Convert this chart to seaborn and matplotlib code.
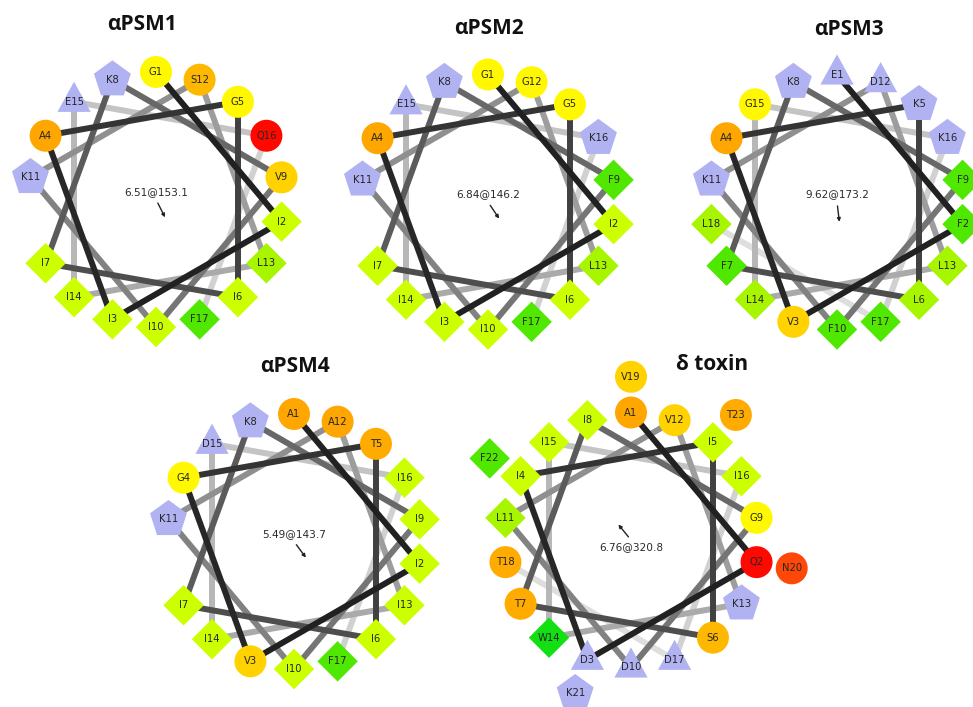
import numpy as np
import pandas as pd
import matplotlib
matplotlib.use("Agg")
import matplotlib.pyplot as plt
from matplotlib.path import Path
import seaborn as sns

sns.set_theme(style="white")
plt.rcParams["font.family"] = ["DejaVu Sans"]

# ---- peptide data ----
titles = ["αPSM1", "αPSM2", "αPSM3", "αPSM4", "δ toxin"]
seq_psm1 = ["G", "I", "I", "A", "G", "I", "I", "K", "V", "I", "K", "S", "L", "I", "E", "Q", "F"]
seq_psm2 = ["G", "I", "I", "A", "G", "I", "I", "K", "F", "I", "K", "G", "L", "I", "E", "K", "F"]
seq_psm3 = ["E", "F", "V", "A", "K", "L", "F", "K", "F", "F", "K", "D", "L", "L", "G", "K", "F", "L"]
seq_psm4 = ["A", "I", "V", "G", "T", "I", "I", "K", "I", "I", "K", "A", "I", "I", "D", "I", "F"]
seq_delta = ["A", "Q", "D", "I", "I", "S", "T", "I", "G", "D", "L", "V", "K", "W", "I", "I",
             "D", "T", "V", "N", "K", "F", "T"]
sequences = [seq_psm1, seq_psm2, seq_psm3, seq_psm4, seq_delta]
moment = [6.51, 6.84, 9.62, 5.49, 6.76]
moment_angle = [153.1, 146.2, 173.2, 143.7, 320.8]

# ---- residue appearance ----
residue_color = {
    "G": "#fff800", "A": "#ffa600", "S": "#ffb800", "T": "#ffab00", "V": "#ffd200",
    "Q": "#ff0800", "N": "#ff4808",
    "I": "#ccff00", "L": "#a8f500", "F": "#50e800", "W": "#12e012",
    "K": "#b0b2f2", "D": "#b0b2f2", "E": "#b0b2f2",
}
residue_kind = {
    "G": "polar", "A": "polar", "S": "polar", "T": "polar", "V": "polar",
    "Q": "polar", "N": "polar",
    "I": "hydrophobic", "L": "hydrophobic", "F": "hydrophobic", "W": "hydrophobic",
    "K": "basic", "D": "acidic", "E": "acidic",
}
triangle = Path([(0, 20), (-16.5, -10), (16.5, -10), (0, 20)],
                [Path.MOVETO, Path.LINETO, Path.LINETO, Path.CLOSEPOLY])
kind_marker = {"polar": "o", "hydrophobic": "D", "basic": "p", "acidic": triangle}
kind_size = {"polar": 530, "hydrophobic": 425, "basic": 780, "acidic": 840}

# ---- layout in pixels ----
W, H = 973, 707
centers = [(156, 199.5), (488, 202), (837, 202), (294, 541.5), (631, 540)]
title_pos = [(142, 29.5), (489, 34.3), (849, 35), (295, 372.3), (712, 370)]
RING = 127.5      # radius of the wheel, px
HALF = 190        # half size of each wheel's axes, px
OUTER = 1.28      # radius of the second turn of the wheel (relative)
seg_gray = np.clip(np.linspace(0.05, 0.87, 17), 0.13, None)

fig = plt.figure(figsize=(W / 100, H / 100), dpi=100)
fig.patch.set_facecolor("white")

for k, seq in enumerate(sequences):
    cx, cy = centers[k]
    ax = fig.add_axes([(cx - HALF) / W, (H - cy - HALF) / H, 2 * HALF / W, 2 * HALF / H])
    ax.patch.set_alpha(0)
    n = len(seq)
    idx = np.arange(n)
    theta = np.deg2rad(90 - 100 * idx)
    rad = np.where(idx < 18, 1.0, OUTER)
    df = pd.DataFrame({
        "x": rad * np.cos(theta),
        "y": rad * np.sin(theta),
        "res": seq,
        "label": [f"{a}{i + 1}" for i, a in enumerate(seq)],
        "kind": [residue_kind[a] for a in seq],
    })

    # backbone connections between consecutive residues, darkest on top
    m = min(n, 18)
    for i in range(m - 1):
        ax.plot(df["x"].iloc[i:i + 2], df["y"].iloc[i:i + 2], color=str(seg_gray[i]),
                lw=4.3, solid_capstyle="butt", zorder=20 - i)

    sns.scatterplot(data=df, x="x", y="y", hue="res", palette=residue_color,
                    style="kind", markers=kind_marker, size="kind", sizes=kind_size,
                    linewidth=0, legend=False, ax=ax, zorder=30)

    for _, row in df.iterrows():
        ax.text(row["x"], row["y"], row["label"], ha="center", va="center",
                fontsize=7.2, color="#262626", zorder=40)

    # hydrophobic moment arrow and value
    d = np.deg2rad(90 - moment_angle[k])
    ux, uy = np.cos(d), np.sin(d)
    ax.annotate("", xy=(20 / RING * ux, 20 / RING * uy), xytext=(4 / RING * ux, 4 / RING * uy),
                arrowprops=dict(arrowstyle="-|>", lw=1.0, color="#222222",
                                mutation_scale=5, shrinkA=0, shrinkB=0), zorder=5)
    ty = -np.sign(uy) * 7.5 / RING
    ax.text(0, ty, f"{moment[k]:.2f}@{moment_angle[k]:.1f}", ha="center", va="center",
            fontsize=7.6, color="#2a2a2a", zorder=5)

    lim = HALF / RING
    ax.set_xlim(-lim, lim)
    ax.set_ylim(-lim, lim)
    ax.set_aspect("equal")
    ax.axis("off")

for k, t in enumerate(titles):
    tx, ty = title_pos[k]
    fig.text(tx / W, 1 - ty / H, t, ha="center", va="baseline", fontsize=15,
             fontweight="bold", family=["Open Sans", "DejaVu Sans"], color="#111111")

fig.savefig("out.png", dpi=100, facecolor="white")
